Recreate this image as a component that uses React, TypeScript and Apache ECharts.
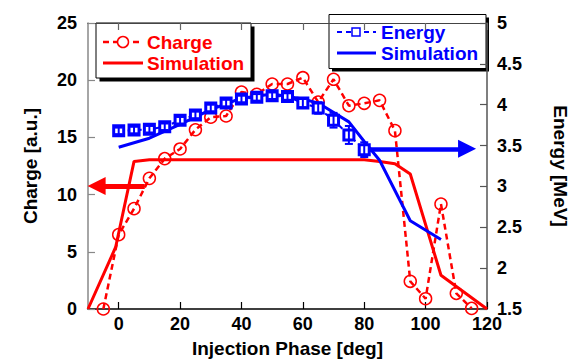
import React, { useEffect, useRef } from "react";
import * as echarts from "echarts";

const phase = [-5, 0, 5, 10, 15, 20, 25, 30, 35, 40, 45, 50, 55, 60, 65, 70, 75, 80, 85, 90, 95, 100, 105, 110, 115];
const charge = [0, 6.5, 8.77, 11.42, 13.14, 13.99, 15.67, 16.76, 16.87, 18.97, 18.77, 19.67, 19.67, 20.22, 18.09, 20.08, 17.77, 17.98, 18.24, 15.59, 2.42, 0.9, 9.18, 1.37, 0.05];

const chargeSimPhase = [-10, -1, 5, 10, 80, 85, 90, 95, 105, 120];
const chargeSim = [0, 5.4, 12.9, 13.05, 13.05, 12.9, 12.7, 11.8, 2.95, 0];

const energyPhase = [0, 5, 10, 15, 20, 25, 30, 35, 40, 45, 50, 55, 60, 65, 70, 75, 80];
const energy = [3.68, 3.69, 3.7, 3.73, 3.81, 3.875, 3.96, 4.02, 4.07, 4.09, 4.11, 4.1, 4.02, 3.96, 3.81, 3.63, 3.45];
const energyErr = [0.04, 0.04, 0.04, 0.04, 0.04, 0.04, 0.04, 0.04, 0.04, 0.04, 0.04, 0.04, 0.05, 0.07, 0.09, 0.11, 0.09];

const energySimPhase = [0, 10, 20, 30, 40, 50, 60, 65, 75, 80, 85, 95, 105];
const energySim = [3.48, 3.59, 3.76, 3.94, 4.08, 4.13, 4.07, 4.02, 3.79, 3.55, 3.32, 2.58, 2.35];

const xTicks = [0, 20, 40, 60, 80, 100, 120];

const RED = "#ff0000";
const BLUE = "#0000ff";
const FONT = "'Liberation Sans', Arial, sans-serif";

function zip(xs: number[], ys: number[]) {
  return xs.map((x, i) => [x, ys[i]]);
}

export default function App() {
  const ref = useRef<HTMLDivElement>(null);
  useEffect(() => {
    document.body.style.margin = "0";
    const chart = echarts.init(ref.current!, null, { renderer: "svg" });
    const tickLabel = { fontFamily: FONT, fontWeight: "bold", fontSize: 18, color: "#000" };
    const nameStyle = { fontFamily: FONT, fontWeight: "bold", fontSize: 19, color: "#000" };

    const legendText = (x: number, y: number, text: string, color: string) => ({
      type: "text",
      x,
      y,
      style: { text, fill: color, font: `bold 19px ${FONT}`, verticalAlign: "middle", align: "left" },
    });

    const option: any = {
      animation: false,
      backgroundColor: "#fff",
      grid: { left: 88, right: 84, top: 23, bottom: 50, outerBoundsMode: "none", containLabel: false },
      xAxis: [
        {
          type: "value",
          min: -10,
          max: 120,
          position: "bottom",
          axisLine: { onZero: false, lineStyle: { color: "#000", width: 1.5 } },
          axisTick: { inside: true, length: 7, customValues: xTicks, lineStyle: { color: "#000", width: 1.2 } },
          axisLabel: { customValues: xTicks, margin: 6, ...tickLabel },
          splitLine: { show: false },
          name: "Injection Phase [deg]",
          nameLocation: "middle",
          nameGap: 30,
          nameTextStyle: nameStyle,
        },
        {
          type: "value",
          min: -10,
          max: 120,
          position: "top",
          axisLine: { onZero: false, lineStyle: { color: "#444", width: 1.2 } },
          axisTick: { inside: true, length: 7, customValues: xTicks, lineStyle: { color: "#666", width: 1.2 } },
          axisLabel: { show: false },
          splitLine: { show: false },
        },
      ],
      yAxis: [
        {
          type: "value",
          min: 0,
          max: 25,
          interval: 5,
          position: "left",
          axisLine: { show: true, onZero: false, lineStyle: { color: "#888", width: 1.5 } },
          axisTick: { show: true, inside: true, length: 7, lineStyle: { color: "#888", width: 1.2 } },
          axisLabel: { margin: 11, ...tickLabel },
          splitLine: { show: false },
          name: "Charge [a.u.]",
          nameLocation: "middle",
          nameGap: 48,
          nameTextStyle: nameStyle,
        },
        {
          type: "value",
          min: 1.5,
          max: 5,
          interval: 0.5,
          position: "right",
          axisLine: { show: true, onZero: false, lineStyle: { color: "#555", width: 1.5 } },
          axisTick: { show: true, inside: true, length: 7, lineStyle: { color: "#555", width: 1.2 } },
          axisLabel: { margin: 10, ...tickLabel, formatter: (v: number) => String(v) },
          splitLine: { show: false },
          name: "Energy [MeV]",
          nameLocation: "middle",
          nameRotate: -90,
          nameGap: 64,
          nameTextStyle: nameStyle,
        },
      ],
      series: [
        {
          name: "Charge",
          type: "line",
          xAxisIndex: 0,
          yAxisIndex: 0,
          data: zip(phase, charge),
          symbol: "circle",
          symbolSize: 12,
          itemStyle: { color: "rgba(255,255,255,0)", borderColor: RED, borderWidth: 1.5 },
          lineStyle: { color: RED, width: 2.5, type: [6, 4] },
          z: 3,
        },
        {
          name: "Charge Simulation",
          type: "line",
          xAxisIndex: 0,
          yAxisIndex: 0,
          data: zip(chargeSimPhase, chargeSim),
          symbol: "none",
          lineStyle: { color: RED, width: 3 },
          z: 2,
          markLine: {
            silent: true,
            symbol: ["none", "triangle"],
            symbolSize: 18,
            label: { show: false },
            lineStyle: { color: RED, width: 5, type: "solid" },
            data: [[{ coord: [8.5, 10.75] }, { coord: [-7.2, 10.75] }]],
          },
        },
        {
          name: "Energy",
          type: "line",
          xAxisIndex: 0,
          yAxisIndex: 1,
          data: zip(energyPhase, energy),
          symbol: "rect",
          symbolSize: 10,
          itemStyle: { color: "#fff", borderColor: BLUE, borderWidth: 3 },
          lineStyle: { color: BLUE, width: 2, type: [5, 4] },
          z: 5,
        },
        {
          name: "Energy Error",
          type: "custom",
          xAxisIndex: 0,
          yAxisIndex: 1,
          data: energyPhase.map((x, i) => [x, energy[i] - energyErr[i], energy[i] + energyErr[i]]),
          renderItem: (params: any, api: any) => {
            const lo = api.coord([api.value(0), api.value(1)]);
            const hi = api.coord([api.value(0), api.value(2)]);
            const st = { stroke: BLUE, lineWidth: 2 };
            return {
              type: "group",
              children: [
                { type: "line", shape: { x1: lo[0], y1: lo[1], x2: hi[0], y2: hi[1] }, style: st },
                { type: "line", shape: { x1: lo[0] - 4, y1: lo[1], x2: lo[0] + 4, y2: lo[1] }, style: st },
                { type: "line", shape: { x1: hi[0] - 4, y1: hi[1], x2: hi[0] + 4, y2: hi[1] }, style: st },
              ],
            };
          },
          z: 6,
        },
        {
          name: "Energy Simulation",
          type: "line",
          xAxisIndex: 0,
          yAxisIndex: 1,
          data: zip(energySimPhase, energySim),
          symbol: "none",
          lineStyle: { color: BLUE, width: 3 },
          z: 4,
          markLine: {
            silent: true,
            symbol: ["none", "triangle"],
            symbolSize: 18,
            label: { show: false },
            lineStyle: { color: BLUE, width: 4.5, type: "solid" },
            data: [[{ coord: [80, 3.46] }, { coord: [113.5, 3.46] }]],
          },
        },
      ],
      graphic: [
        {
          type: "group",
          z: 10,
          children: [
            { type: "rect", shape: { x: 99.5, y: 26.5, width: 155, height: 55 }, style: { fill: "#000" } },
            { type: "rect", shape: { x: 96, y: 23, width: 155, height: 55 }, style: { fill: "#fff", stroke: "#000", lineWidth: 1 } },
            { type: "line", shape: { x1: 103, y1: 42, x2: 143, y2: 42 }, style: { stroke: RED, lineWidth: 2.5, lineDash: [6, 4] } },
            { type: "circle", shape: { cx: 123, cy: 42, r: 5.5 }, style: { fill: "#fff", stroke: RED, lineWidth: 1.5 } },
            legendText(147, 42, "Charge", RED),
            { type: "line", shape: { x1: 103, y1: 63, x2: 143, y2: 63 }, style: { stroke: RED, lineWidth: 3 } },
            legendText(147, 63, "Simulation", RED),

            { type: "rect", shape: { x: 332, y: 17.5, width: 157, height: 54 }, style: { fill: "#000" } },
            { type: "rect", shape: { x: 329, y: 14.5, width: 157, height: 54 }, style: { fill: "#fff", stroke: "#000", lineWidth: 1 } },
            { type: "line", shape: { x1: 337, y1: 32, x2: 376, y2: 32 }, style: { stroke: BLUE, lineWidth: 2, lineDash: [5, 4] } },
            { type: "rect", shape: { x: 352, y: 28, width: 8, height: 8 }, style: { fill: "#fff", stroke: BLUE, lineWidth: 1.5 } },
            legendText(381, 32, "Energy", BLUE),
            { type: "line", shape: { x1: 337, y1: 53, x2: 376, y2: 53 }, style: { stroke: BLUE, lineWidth: 3 } },
            legendText(381, 53, "Simulation", BLUE),
          ],
        },
      ],
    };
    chart.setOption(option);
    return () => chart.dispose();
  }, []);
  return <div ref={ref} style={{ width: 571, height: 359 }} />;
}
